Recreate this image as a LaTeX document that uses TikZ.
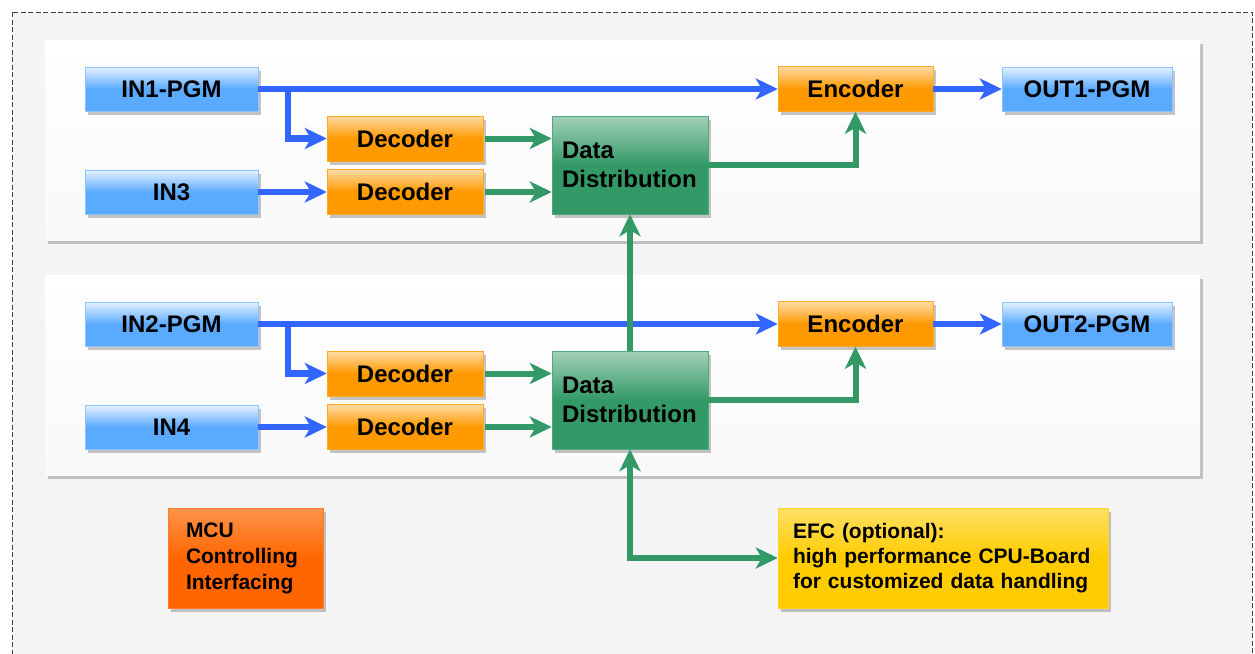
\documentclass[tikz,border=0pt]{standalone}
\usepackage{fontspec}
\setmainfont{Liberation Sans}
\usepackage{xcolor}
\definecolor{inblue}{RGB}{90,170,255}
\definecolor{arrblue}{RGB}{51,102,255}
\definecolor{arrgreen}{RGB}{51,153,102}
\definecolor{ddgreen}{RGB}{51,153,102}
\definecolor{codorange}{RGB}{255,153,0}
\definecolor{mcuorange}{RGB}{255,102,0}
\definecolor{efcyellow}{RGB}{255,204,0}
\definecolor{bggray}{RGB}{244,244,244}
\definecolor{panelgray}{RGB}{249,249,249}
\usepackage{tikz}
\usetikzlibrary{arrows.meta, shadows}
\tikzstyle{box} = [
    rectangle, align=center,
    inner sep=0pt,
    font=\fontsize{24}{29}\selectfont\bfseries,
    drop shadow={shadow xshift=2.5pt, shadow yshift=-3.5pt, opacity=.45},
]
\tikzstyle{io} = [
    box,
    minimum width=173pt, minimum height=44pt,
    top color=inblue!15!white, bottom color=inblue, middle color=inblue,
    draw=inblue!70!white,
]
\tikzstyle{coder} = [
    box,
    minimum width=156pt, minimum height=45pt,
    top color=codorange!35!white, bottom color=codorange, middle color=codorange,
    draw=codorange!85!white,
]
\tikzstyle{dist} = [
    box, align=left,
    text width=136pt, inner xsep=10pt, minimum height=98pt,
    top color=ddgreen!45!white, bottom color=ddgreen, middle color=ddgreen,
    draw=ddgreen!85!white,
]
\tikzstyle{mcu} = [
    box, align=left,
    font=\fontsize{21}{26}\selectfont\bfseries,
    text width=119pt, inner xsep=18pt, minimum height=100pt,
    top color=mcuorange!70!white, bottom color=mcuorange, middle color=mcuorange,
    draw=mcuorange!85!white,
]
\tikzstyle{efc} = [
    box, align=left,
    font=\fontsize{21}{25}\selectfont\bfseries,
    text width=300pt, inner xsep=15pt, minimum height=100pt,
    top color=efcyellow!60!white, bottom color=efcyellow, middle color=efcyellow,
    draw=efcyellow!85!white,
]
\tikzstyle{panel} = [
    top color=white, bottom color=panelgray,
    drop shadow={shadow xshift=3pt, shadow yshift=-4pt, opacity=.45},
]
\tikzstyle{frame} = [draw=black!75, fill=bggray, line width=0.9pt, dash pattern=on 5pt off 2.5pt]
\tikzstyle{barrow} = [line width=6.5pt, arrblue, -{Stealth[length=22pt, width=21pt, inset=6pt]}]
\tikzstyle{garrow} = [line width=6pt, arrgreen, -{Stealth[length=22pt, width=21pt, inset=6pt]}]

\begin{document}
\begin{tikzpicture}[x=1pt, y=-1pt]
    \useasboundingbox (0,0) rectangle (1255,653);
    \clip (0,0) rectangle (1255,653);

    % frame and panels
    \draw [frame] (12,12) rectangle (1252,680);
    \foreach \dy in {0,235}
        \fill [panel] (45,40+\dy) rectangle (1200,240+\dy);

    % boxes
    \foreach \p/\inA/\inB/\outA/\dy in {1/IN1-PGM/IN3/OUT1-PGM/0, 2/IN2-PGM/IN4/OUT2-PGM/235} {
        \node (ina\p) at (171.5, 89+\dy) [io] {\inA};
        \node (inb\p) at (171.5, 192+\dy) [io] {\inB};
        \node (deca\p) at (405, 138.5+\dy) [coder] {Decoder};
        \node (decb\p) at (405, 192+\dy) [coder] {Decoder};
        \node (dist\p) at (630, 165+\dy) [dist] {Data\\Distribution};
        \node (enc\p) at (855.5, 89+\dy) [coder, minimum width=155pt] {Encoder};
        \node (out\p) at (1087, 89+\dy) [io, minimum width=170pt] {\outA};
        \coordinate (split\p) at (288, 89+\dy);
    }

    \node (mcu) at (245.5, 558) [mcu] {MCU\\Controlling\\Interfacing};
    \node (efc) at (943, 558) [efc] {EFC (optional):\\high performance CPU-Board\\for customized data handling};

    % arrows
    \foreach \p in {1,2} {
        \draw [barrow] (ina\p.east) -- (enc\p.west);
        \draw [barrow] (split\p) |- (deca\p.west);
        \draw [barrow] (inb\p.east) -- (decb\p.west);
        \draw [garrow, shorten <=2pt] (deca\p.east) -- (deca\p.east -| dist\p.west);
        \draw [garrow, shorten <=2pt] (decb\p.east) -- (decb\p.east -| dist\p.west);
        \draw [garrow] (dist\p.east) -| (enc\p.south);
        \draw [barrow] (enc\p.east) -- (out\p.west);
    }
    \draw [garrow] (dist2.north) -- (dist1.south);
    \draw [garrow, {Stealth[length=22pt, width=21pt, inset=6pt]}-{Stealth[length=22pt, width=21pt, inset=6pt]}] (dist2.south) |- (efc.west);

\end{tikzpicture}
\end{document}
